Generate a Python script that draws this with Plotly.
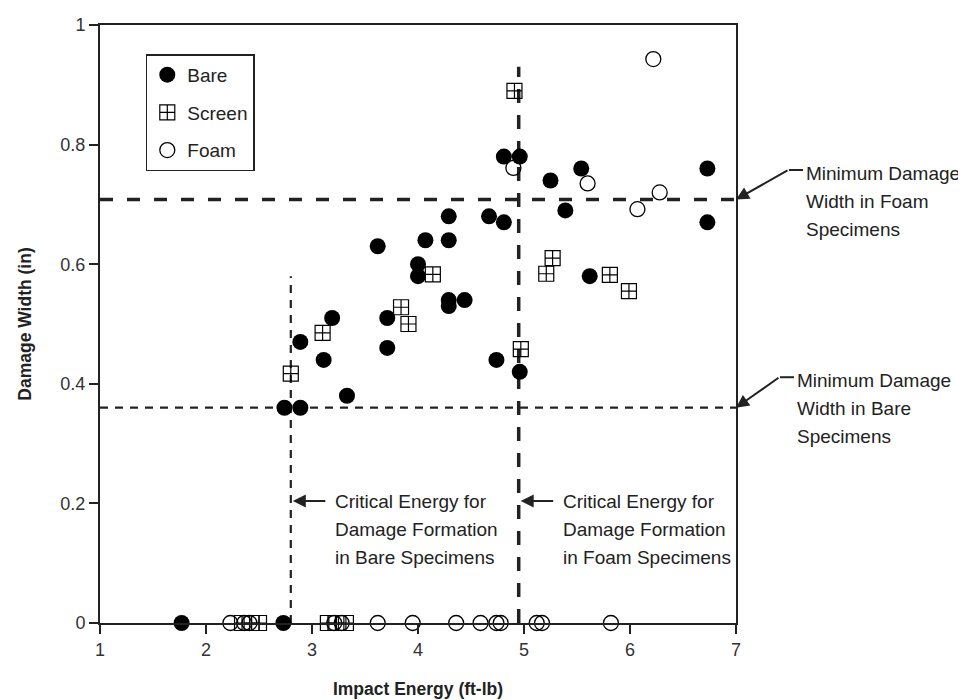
import plotly.graph_objects as go

# ---- data ----
bare_x = [1.77, 2.73, 2.74, 2.89, 2.89, 3.11, 3.19, 3.33, 3.71, 3.71, 3.62, 4.00, 4.00, 4.07,
          4.29, 4.29, 4.29, 4.29, 4.44, 4.67, 4.81, 4.74, 4.96, 4.81, 4.96, 5.25, 5.39, 5.54,
          5.62, 6.73, 6.73]
bare_y = [0.0, 0.0, 0.36, 0.36, 0.47, 0.44, 0.51, 0.38, 0.51, 0.46, 0.63, 0.60, 0.58, 0.64,
          0.68, 0.64, 0.54, 0.53, 0.54, 0.68, 0.67, 0.44, 0.42, 0.78, 0.78, 0.74, 0.69, 0.76,
          0.58, 0.76, 0.67]

screen_x = [2.34, 2.43, 2.50, 3.15, 3.23, 3.32, 2.80, 3.10, 3.84, 3.91, 4.14, 4.91, 4.97,
            5.21, 5.27, 5.81, 5.99]
screen_y = [0.0, 0.0, 0.0, 0.0, 0.0, 0.0, 0.417, 0.485, 0.528, 0.50, 0.583, 0.89, 0.458,
            0.584, 0.61, 0.582, 0.555]

foam_x = [2.23, 2.36, 2.41, 3.21, 3.28, 3.62, 3.95, 4.36, 4.59, 4.74, 4.78, 5.12, 5.17, 5.82,
          4.90, 5.60, 6.22, 6.28, 6.07]
foam_y = [0.0, 0.0, 0.0, 0.0, 0.0, 0.0, 0.0, 0.0, 0.0, 0.0, 0.0, 0.0, 0.0, 0.0,
          0.761, 0.735, 0.943, 0.72, 0.692]

x_ticks = [1, 2, 3, 4, 5, 6, 7]
y_ticks = [0, 0.2, 0.4, 0.6, 0.8, 1.0]
y_ticktext = ["0", "0.2", "0.4", "0.6", "0.8", "1"]

crit_energy_bare = 2.80
crit_energy_foam = 4.95
min_width_bare = 0.36
min_width_foam = 0.708
bare_line_top = 0.58
foam_line_top = 0.93

foam_width_note = ["Minimum Damage", "Width in Foam", "Specimens"]
bare_width_note = ["Minimum Damage", "Width in Bare", "Specimens"]
bare_energy_note = ["Critical Energy for", "Damage Formation", "in Bare Specimens"]
foam_energy_note = ["Critical Energy for", "Damage Formation", "in Foam Specimens"]

FONT = "Liberation Sans, Arial, Helvetica, sans-serif"
INK = "#222222"
LINE_GAP = 28  # px between callout text lines

fig = go.Figure()
fig.add_trace(go.Scatter(x=bare_x, y=bare_y, mode="markers", name="Bare", legendgroup="a",
                         cliponaxis=False,
                         marker=dict(symbol="circle", size=16, color="black")))
fig.add_trace(go.Scatter(x=screen_x, y=screen_y, mode="markers", name="Screen", legendgroup="b",
                         cliponaxis=False,
                         marker=dict(symbol="square-cross-open", size=15, color="black",
                                     line=dict(width=1.2, color="black"))))
fig.add_trace(go.Scatter(x=foam_x, y=foam_y, mode="markers", name="Foam", legendgroup="c",
                         cliponaxis=False,
                         marker=dict(symbol="circle-open", size=15, color="black",
                                     line=dict(width=1.3, color="black"))))

# reference lines
fig.add_shape(type="line", xref="x", yref="y", x0=1, x1=7, y0=min_width_foam, y1=min_width_foam,
              line=dict(color=INK, width=3.5, dash="13px,14px"), layer="below")
fig.add_shape(type="line", xref="x", yref="y", x0=crit_energy_foam, x1=crit_energy_foam,
              y0=0, y1=foam_line_top,
              line=dict(color=INK, width=3.5, dash="14px,12px"), layer="below")
fig.add_shape(type="line", xref="x", yref="y", x0=1, x1=7, y0=min_width_bare, y1=min_width_bare,
              line=dict(color=INK, width=2.2, dash="8px,7px"), layer="below")
fig.add_shape(type="line", xref="x", yref="y", x0=crit_energy_bare, x1=crit_energy_bare,
              y0=0, y1=bare_line_top,
              line=dict(color=INK, width=2.2, dash="8px,7px"), layer="below")

ann_font = dict(family=FONT, size=19, color=INK)


def add_text_block(lines, xref, x, yref, y, xshift=0):
    for i, line in enumerate(lines):
        fig.add_annotation(xref=xref, yref=yref, x=x, y=y, xshift=xshift,
                           yshift=-i * LINE_GAP, text=line, showarrow=False,
                           xanchor="left", yanchor="middle", align="left", font=ann_font)


# right-side callouts: arrow + stub + text
for y_head, stub_y, ax, ay, lines in [
    (min_width_foam, 0.7575, 53, -30, foam_width_note),
    (min_width_bare, 0.411, 44, -31, bare_width_note),
]:
    fig.add_annotation(xref="paper", yref="y", x=1.0, y=y_head, text="", showarrow=True,
                       ax=ax, ay=ay, arrowhead=2, arrowsize=1.3, arrowwidth=2, arrowcolor=INK)
    x_tail = 1.0 + ax / 636
    fig.add_shape(type="line", xref="paper", yref="y", x0=x_tail, x1=x_tail + 0.022,
                  y0=stub_y, y1=stub_y, line=dict(color=INK, width=2))
    add_text_block(lines, "paper", x_tail + 0.024, "y", stub_y - 0.006)

# bottom callouts
for x_head, lines in [(crit_energy_bare, bare_energy_note),
                      (crit_energy_foam, foam_energy_note)]:
    fig.add_annotation(xref="x", yref="y", x=x_head, y=0.204, text="", showarrow=True,
                       ax=36, ay=0, arrowhead=2, arrowsize=1.3, arrowwidth=2, arrowcolor=INK,
                       standoff=2)
    add_text_block(lines, "x", x_head, "y", 0.204, xshift=42)

axis_common = dict(ticks="outside", ticklen=9, tickwidth=1.5, tickcolor=INK, showline=True,
                   linewidth=2, linecolor=INK, mirror=True, showgrid=False, zeroline=False,
                   automargin=False, tickfont=dict(family=FONT, size=18, color="#333333"))

fig.update_layout(
    width=966, height=700,
    margin=dict(l=92, r=238, t=17, b=85),
    plot_bgcolor="white", paper_bgcolor="white",
    font=dict(family=FONT, color=INK),
    showlegend=True,
    legend=dict(x=0.072, y=0.951, xanchor="left", yanchor="top",
                bordercolor=INK, borderwidth=1.5, bgcolor="white",
                font=dict(family=FONT, size=19, color=INK),
                tracegroupgap=10, itemsizing="trace"),
    xaxis=dict(range=[1, 7], tickvals=x_ticks,
               title=dict(text="<b>Impact Energy (ft-lb)</b>", standoff=24,
                          font=dict(family=FONT, size=17.5, color=INK)),
               **axis_common),
    yaxis=dict(range=[0, 1], tickvals=y_ticks, ticktext=y_ticktext,
               title=dict(text="<b>Damage Width (in)</b>", standoff=24,
                          font=dict(family=FONT, size=17.5, color=INK)),
               **axis_common),
)

fig.write_html("out.html")
